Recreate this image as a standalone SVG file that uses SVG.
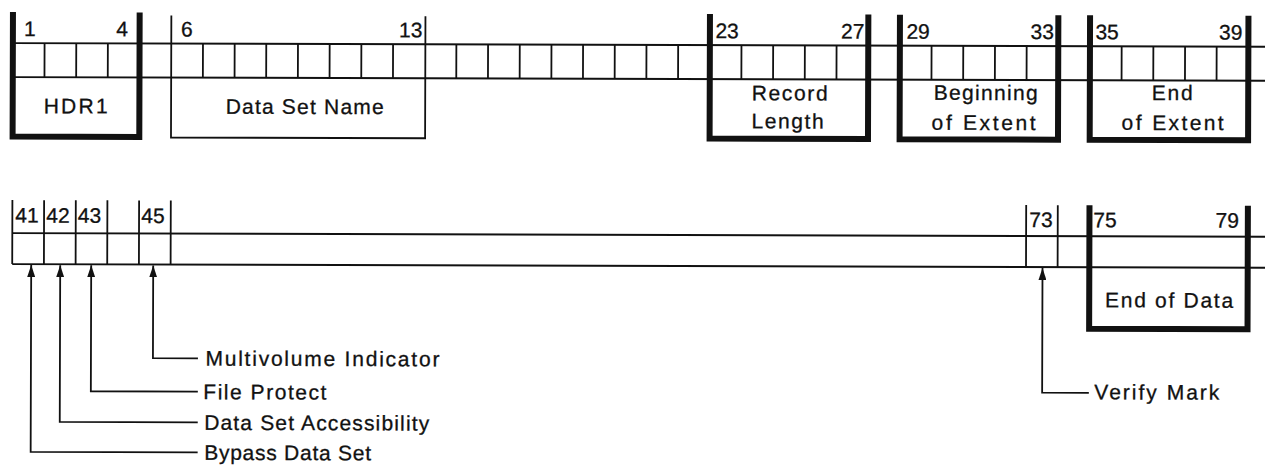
<svg xmlns="http://www.w3.org/2000/svg" width="1265" height="466" viewBox="0 0 1265 466">
<defs>
<style>
.thin{stroke:#111;stroke-width:1.8;fill:none}
.thick{stroke:#111;stroke-width:6;fill:none;stroke-linejoin:miter}
.num{font-family:"Liberation Sans",Arial,sans-serif;font-size:21px;fill:#111;stroke:#111;stroke-width:0.3}
.lbl{font-family:"Liberation Sans",Arial,sans-serif;font-size:21px;fill:#111;stroke:#111;stroke-width:0.3}
.mid{text-anchor:middle}
.end{text-anchor:end}
.conn{stroke:#111;stroke-width:1.8;fill:none;marker-start:url(#ah)}
</style>
<marker id="ah" viewBox="0 0 12 8" refX="12" refY="4" markerWidth="12" markerHeight="8" markerUnits="userSpaceOnUse" orient="auto-start-reverse">
<path d="M0,0 L12,4 L0,8 z" fill="#111"/>
</marker>
</defs>
<rect width="1265" height="466" fill="#fff"/>
<g transform="rotate(0.17)">
<g id="top-strip">
<path class="thin" d="M13,43 H1270 M13,77 H1270"/>
<path class="thin" d="M44.7,43 V77 M76.4,43 V77 M108,43 V77 M203.1,43 V77 M234.8,43 V77 M266.4,43 V77 M298.1,43 V77 M329.8,43 V77 M361.5,43 V77 M393.2,43 V77 M456.5,43 V77 M488.2,43 V77 M519.9,43 V77 M551.6,43 V77 M583.2,43 V77 M614.9,43 V77 M646.6,43 V77 M678.3,43 V77 M741.6,43 V77 M773.3,43 V77 M805,43 V77 M836.7,43 V77 M931.7,43 V77 M963.4,43 V77 M995.1,43 V77 M1026.8,43 V77 M1121.8,43 V77 M1153.5,43 V77 M1185.2,43 V77 M1216.8,43 V77"/>
</g>
<g id="hdr1">
<path class="thick" d="M13,12 V136.5 H139.7 V12"/>
<text class="num" x="24" y="36">1</text>
<text class="num end" x="128" y="36">4</text>
<text class="lbl mid" x="76" y="113" textLength="64" lengthAdjust="spacing">HDR1</text>
</g>
<g id="data-set-name">
<path class="thin" d="M171.4,15 V137 H425.5 V15"/>
<text class="num" x="181" y="36">6</text>
<text class="num end" x="422.5" y="36">13</text>
<text class="lbl mid" x="305" y="113" textLength="158" lengthAdjust="spacing">Data Set Name</text>
</g>
<g id="record-length">
<path class="thick" d="M710,12 V136.5 H868.4 V12"/>
<text class="num" x="715.5" y="36">23</text>
<text class="num end" x="864.5" y="36">27</text>
<text class="lbl mid" x="790" y="98" textLength="76" lengthAdjust="spacing">Record</text>
<text class="lbl mid" x="788" y="126" textLength="72" lengthAdjust="spacing">Length</text>
</g>
<g id="beginning-of-extent">
<path class="thick" d="M900,12 V136.5 H1058.4 V12"/>
<text class="num" x="906.5" y="36">29</text>
<text class="num end" x="1054" y="36">33</text>
<text class="lbl mid" x="986" y="97" textLength="104" lengthAdjust="spacing">Beginning</text>
<text class="lbl mid" x="984" y="127" textLength="104" lengthAdjust="spacing">of Extent</text>
</g>
<g id="end-of-extent">
<path class="thick" d="M1090.1,12 V136.5 H1248.5 V12"/>
<text class="num" x="1095.5" y="36">35</text>
<text class="num end" x="1242.5" y="36">39</text>
<text class="lbl mid" x="1172.5" y="96.5" textLength="41" lengthAdjust="spacing">End</text>
<text class="lbl mid" x="1173" y="126.5" textLength="102" lengthAdjust="spacing">of Extent</text>
</g>
<g id="bottom-strip">
<path class="thin" d="M13,200 H13 M13,233 H1270 M13,264 H1270"/>
<path class="thin" d="M13,200 V264 M44.7,200 V264 M76.4,200 V264 M108,200 V264 M139.7,200 V264 M171.4,200 V264"/>
<text class="num" x="16" y="222.5">41</text>
<text class="num" x="47" y="222.5">42</text>
<text class="num" x="78.5" y="222.5">43</text>
<text class="num" x="142" y="222.5">45</text>
</g>
<g id="verify-field">
<path class="thin" d="M1026.8,202 V264 M1058.4,202 V264"/>
<text class="num" x="1030" y="224">73</text>
</g>
<g id="end-of-data">
<path class="thick" d="M1090.1,202 V325.5 H1248.5 V202"/>
<text class="num" x="1094" y="224">75</text>
<text class="num end" x="1239.5" y="224">79</text>
<text class="lbl mid" x="1170" y="304" textLength="128" lengthAdjust="spacing">End of Data</text>
</g>
<g id="connectors">
<path class="conn" d="M32,265 V451.7 H199"/>
<path class="conn" d="M61,265 V421.7 H199"/>
<path class="conn" d="M92,265 V391 H199"/>
<path class="conn" d="M154,265 V357.7 H199"/>
<path class="conn" d="M1043.3,265 V389.6 H1090"/>
</g>
<g id="labels">
<text class="lbl" x="206.5" y="365" textLength="234" lengthAdjust="spacing">Multivolume Indicator</text>
<text class="lbl" x="204.5" y="398.5" textLength="123" lengthAdjust="spacing">File Protect</text>
<text class="lbl" x="205.5" y="429.2" textLength="225" lengthAdjust="spacing">Data Set Accessibility</text>
<text class="lbl" x="205.5" y="459.2" textLength="167" lengthAdjust="spacing">Bypass Data Set</text>
<text class="lbl" x="1095.5" y="396" textLength="125" lengthAdjust="spacing">Verify Mark</text>
</g>
</g>
</svg>
